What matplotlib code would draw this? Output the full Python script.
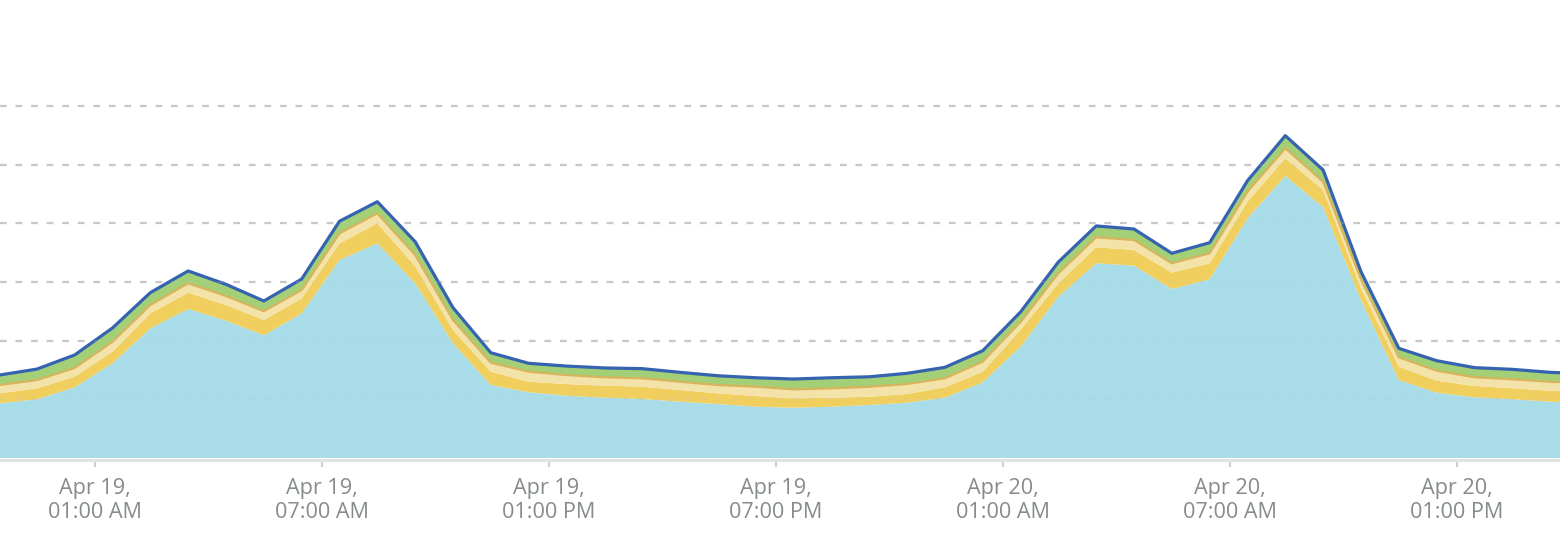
import numpy as np
import pandas as pd
import matplotlib
matplotlib.use("Agg")
import matplotlib.pyplot as plt
import matplotlib.dates as mdates
from matplotlib.ticker import FixedLocator

plt.rcParams['font.family'] = ['Open Sans', 'DejaVu Sans']

# hourly samples, starting Apr 18 22:28
times = pd.date_range("2024-04-18 22:28", periods=43, freq="h")

# stacked layers, bottom to top
base = [9.32, 10.00, 12.05, 16.14, 22.11, 25.40, 23.40, 20.91, 24.66, 33.75,
        36.59, 29.78, 19.55, 12.44, 11.20, 10.62, 10.28, 10.06, 9.60, 9.20,
        8.74, 8.57, 8.74, 9.03, 9.43, 10.28, 12.90, 18.97, 27.49, 33.19,
        32.78, 28.81, 30.46, 40.86, 48.07, 42.73, 26.93, 13.29, 11.13, 10.35,
        10.01, 9.60, 9.40]
yellow = [1.70, 1.87, 1.81, 1.98, 2.56, 2.78, 2.68, 2.61, 2.56, 2.85,
          3.41, 2.95, 2.27, 2.27, 1.81, 1.99, 2.05, 2.10, 1.99, 1.82,
          1.82, 1.60, 1.53, 1.41, 1.48, 1.77, 1.81, 2.85, 2.28, 2.73,
          2.68, 2.78, 2.73, 2.83, 3.02, 2.95, 1.99, 2.27, 2.05, 1.93,
          1.87, 1.87, 1.85]
cream = [1.41, 1.41, 1.48, 1.70, 1.41, 1.60, 1.53, 1.50, 1.41, 1.70,
         1.70, 1.87, 1.70, 1.53, 1.70, 1.53, 1.43, 1.43, 1.41, 1.41,
         1.59, 1.53, 1.60, 1.70, 1.70, 1.53, 1.70, 1.36, 1.70, 1.70,
         1.70, 1.60, 1.70, 1.70, 1.70, 1.41, 1.53, 1.60, 1.70, 1.48,
         1.53, 1.53, 1.50]
green = [1.70, 1.87, 2.22, 2.34, 2.10, 2.10, 1.99, 1.74, 1.87, 2.05,
         1.98, 2.27, 2.10, 1.70, 1.43, 1.53, 1.59, 1.64, 1.60, 1.59,
         1.53, 1.76, 1.81, 1.70, 1.82, 1.87, 1.87, 1.70, 1.93, 1.93,
         1.87, 1.70, 1.81, 1.87, 2.15, 1.99, 1.30, 1.53, 1.70, 1.64,
         1.70, 1.60, 1.60]

tick_times = pd.to_datetime(["2024-04-19 01:00", "2024-04-19 07:00", "2024-04-19 13:00",
                             "2024-04-19 19:00", "2024-04-20 01:00", "2024-04-20 07:00",
                             "2024-04-20 13:00"])
grid_levels = [10, 20, 30, 40, 50, 60]

fig = plt.figure(figsize=(15.6, 5.52), dpi=100)
ax = fig.add_axes([0, 1 - 458 / 552, 1, 458 / 552])

x = mdates.date2num(times)
l1 = np.array(base)
l2 = l1 + np.array(yellow)
l3 = l2 + np.array(cream)
l4 = l3 + np.array(green)

# dotted grid, faintly visible through the areas too
for g in grid_levels:
    ax.axhline(g, color="#c8c8c8", lw=1.6, ls=(0, (3, 4)), zorder=0)
    ax.axhline(g, color="#c8c8c8", lw=1.6, ls=(0, (3, 4)), alpha=0.18, zorder=5)

ax.fill_between(x, 0, l1, color="#a7dce8", lw=0, zorder=1)
ax.fill_between(x, l1, l2, color="#f0cf5e", lw=0, zorder=1)
ax.fill_between(x, l2, l3, color="#f4e3a9", lw=0, zorder=1)
ax.fill_between(x, l3, l4, color="#a3d077", lw=0, zorder=1)
ax.plot(x, l3, color="#d8b45c", lw=1.6, zorder=2)
ax.plot(x, l4, color="#3563b0", lw=2.3, zorder=3)

ax.set_xlim(mdates.date2num(pd.Timestamp("2024-04-18 22:29:36")),
            mdates.date2num(pd.Timestamp("2024-04-20 15:43:36")))
ax.set_ylim(0, 458 / 5.867)

ax.xaxis.set_major_locator(FixedLocator(mdates.date2num(tick_times)))
ax.xaxis.set_major_formatter(mdates.DateFormatter("%b %d,\n%I:%M %p"))
ax.tick_params(axis="x", colors="#d0d0d0", length=5, width=1.5, pad=8,
               labelsize=15.6, labelcolor="#868b8d")
for lab in ax.get_xticklabels():
    lab.set_linespacing(0.98)
ax.set_yticks([])

for s in ["top", "left", "right"]:
    ax.spines[s].set_visible(False)
ax.spines["bottom"].set_color("#e2e2e2")
ax.spines["bottom"].set_linewidth(2.2)
ax.spines["bottom"].set_position(("outward", 1.5))

fig.savefig("out.png", dpi=100)
